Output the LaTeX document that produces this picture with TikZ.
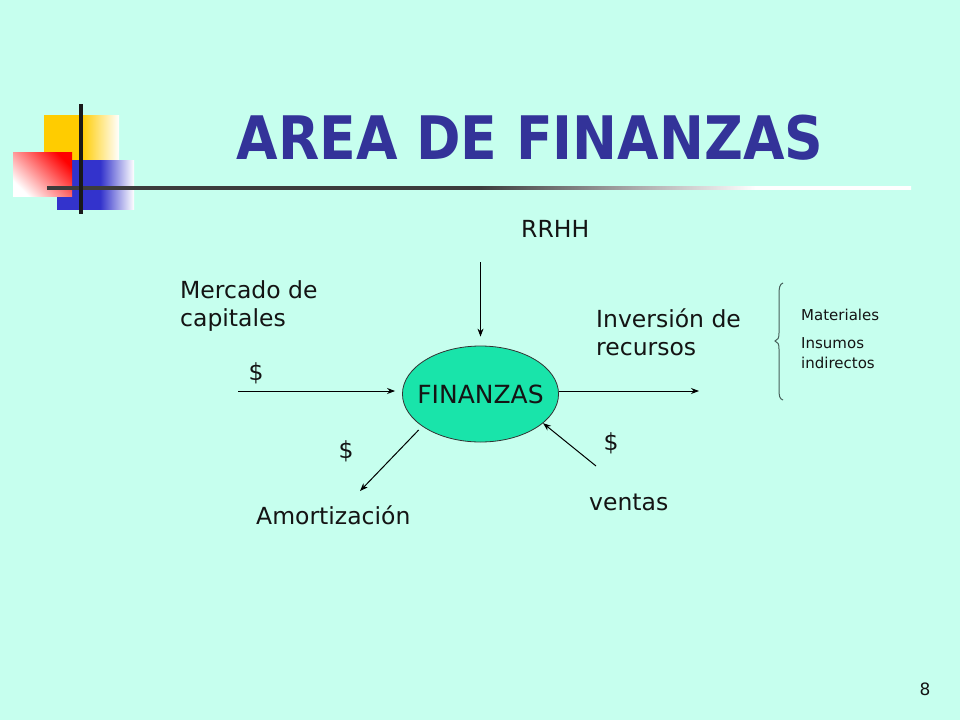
\documentclass[tikz,border=0pt]{standalone}
\usepackage{fontspec}
\setmainfont{DejaVu Sans}
\usetikzlibrary{arrows.meta,shapes.geometric}
\definecolor{bgc}{RGB}{198,255,238}
\definecolor{titlec}{RGB}{51,51,153}
\definecolor{txtc}{RGB}{20,20,20}
\definecolor{finc}{RGB}{25,228,170}
\definecolor{yellowc}{RGB}{255,204,0}
\definecolor{bluec}{RGB}{51,51,204}
\definecolor{redc}{RGB}{255,0,0}
\definecolor{linegray}{RGB}{60,60,60}
\definecolor{bracec}{RGB}{70,95,90}
\pgfdeclarehorizontalshading{hlineshade}{100bp}{color(0bp)=(linegray); color(25bp)=(linegray); color(50bp)=(linegray); color(66bp)=(white); color(100bp)=(white)}
\pgfdeclarehorizontalshading{yelshade}{100bp}{color(0bp)=(yellowc); color(25bp)=(yellowc); color(50bp)=(yellowc); color(75bp)=(white); color(100bp)=(white)}
\pgfdeclarehorizontalshading{blushade}{100bp}{color(0bp)=(bluec); color(25bp)=(bluec); color(53bp)=(bluec); color(75bp)=(white); color(100bp)=(white)}
\tikzset{
  lbl/.style={anchor=base west, inner sep=0pt, text=txtc, font=\fontsize{23.5}{28}\selectfont, align=left},
  small/.style={anchor=base west, inner sep=0pt, text=txtc, font=\fontsize{15}{19.5}\selectfont, align=left},
  dollar/.style={anchor=base, inner sep=0pt, text=txtc, font=\fontsize{23.5}{28}\selectfont},
  conn/.style={line width=1pt, draw=black, -{Stealth[length=8pt,width=6pt]}},
}
\begin{document}
\begin{tikzpicture}[x=1pt,y=-1pt]
\useasboundingbox (0,0) rectangle (960,720);
\fill[bgc] (0,0) rectangle (960,720);
% decoration
\shade[shading=yelshade] (44,115) rectangle (119,170);
\shade[shading=blushade] (57,160) rectangle (134,209);
\shade[top color=redc, bottom color=white, shading angle=-45] (13,152) rectangle (72,196);
\shade[shading=hlineshade] (47,186.5) rectangle (911,189.5);
\fill[black!90] (79,104) rectangle (83,214);
% title
\node[anchor=base, inner sep=0pt, text=titlec, font=\bfseries\fontsize{60}{60}\selectfont] (title) at (530,159) {\scalebox{0.894}[1]{AREA DE FINANZAS}};
% central node
\node[ellipse, draw=black!80, line width=0.8pt, fill=finc, minimum width=153pt, minimum height=96pt, inner xsep=-8pt, inner ysep=0pt, text=txtc, font=\fontsize{25}{28}\selectfont] (fin) at (480.5,394) {FINANZAS};
% labels
\node[lbl] (rrhh) at (521,237) {RRHH};
\node[lbl] (mer) at (180,326) {Mercado de\\capitales};
\node[lbl] (inv) at (596,355) {Inversión de\\recursos};
\node[lbl] (amo) at (256,524) {Amortización};
\node[lbl] (ven) at (589,510) {ventas};
\node[dollar] (d1) at (256,380) {\$};
\node[dollar] (d2) at (346,458) {\$};
\node[dollar] (d3) at (611,450) {\$};
\node[small] (mat) at (801,320) {Materiales};
\node[small] (ins) at (801,368) {Insumos\\indirectos};
\node[anchor=base, inner sep=0pt, text=txtc, font=\fontsize{17}{20}\selectfont] (pg) at (925,695) {8};
% connector ends
\coordinate (rrhhs) at (480.5,262);
\coordinate (mers) at (238,391);
\coordinate (inve) at (699,391);
\coordinate (amoe) at (360,491);
\coordinate (vens) at (596,466);
\draw[conn, shorten >=9pt] (rrhhs) -- (fin);
\draw[conn, shorten >=7pt] (mers) -- (mers -| fin.west);
\draw[conn] (inve -| fin.east) -- (inve);
\draw[conn, shorten <=5pt] (fin.209) -- (amoe);
\draw[conn] (vens) -- (fin.335);
% brace
\draw[bracec, line width=1pt] (783,283) .. controls (779.5,284) and (779,288) .. (779,295) -- (779,333) .. controls (779,338) and (778,340) .. (775,341) .. controls (778,342) and (779,344) .. (779,349) -- (779,389) .. controls (779,396) and (779.5,399) .. (783,400);
\end{tikzpicture}
\end{document}
